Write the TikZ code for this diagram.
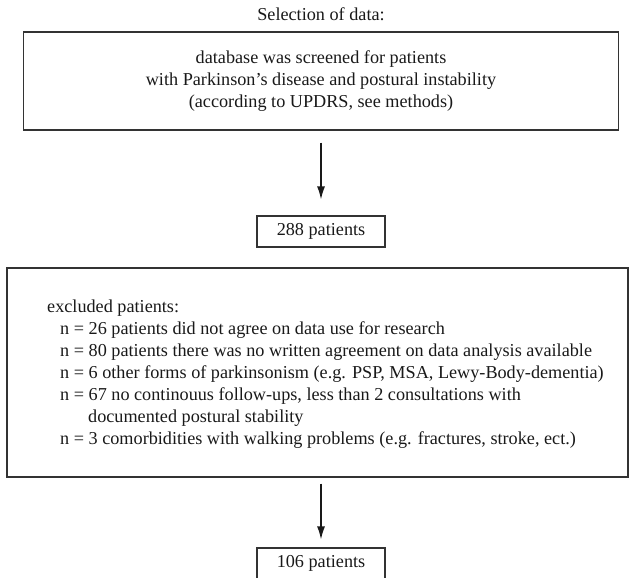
\documentclass[tikz,border=0pt]{standalone}
\usepackage{fontspec}
\setmainfont{Liberation Serif}
\usetikzlibrary{arrows.meta}
\begin{document}
\begin{tikzpicture}[x=1bp,y=-1bp,
  txt/.style={inner sep=0pt, font=\fontsize{18.2bp}{22bp}\selectfont, text=black!90},
  box/.style={draw=black!80, line width=1.1bp, inner sep=0pt, txt},
  arr/.style={draw=black!90, line width=1.4bp, -{Latex[length=13bp,width=8bp]}}
]
\useasboundingbox (0,0) rectangle (629,578);
\node[txt, anchor=base] (title) at (321,21) {Selection of data:};
\node[box, align=center, minimum width=595bp, minimum height=98bp] (screen) at (321,81)
  {database was screened for patients\\with Parkinson’s disease and postural instability\\(according to UPDRS, see methods)};
\node[box, minimum width=128bp, minimum height=31bp] (p288) at (321,231.5) {288 patients};
\node[box, minimum width=621bp, minimum height=209bp] (excl) at (317.5,372.5) {};
\node[txt, anchor=base west] (ex0) at (47,312) {excluded patients:};
\node[txt, anchor=base west] (ex1) at (60,334) {n = 26 patients did not agree on data use for research};
\node[txt, anchor=base west] (ex2) at (60,356) {n = 80 patients there was no written agreement on data analysis available};
\node[txt, anchor=base west] (ex3) at (60,378) {n = 6 other forms of parkinsonism (e.g. PSP, MSA, Lewy-Body-dementia)};
\node[txt, anchor=base west] (ex4) at (60,400) {n = 67 no continouus follow-ups, less than 2 consultations with};
\node[txt, anchor=base west] (ex5) at (88,422) {documented postural stability};
\node[txt, anchor=base west] (ex6) at (60,444) {n = 3 comorbidities with walking problems (e.g. fractures, stroke, ect.)};
\node[box, minimum width=128bp, minimum height=31bp] (p106) at (321,563.5) {106 patients};
\draw[arr, shorten <=12bp, shorten >=16bp] (screen.south) -- (p288.north);
\draw[arr, shorten <=6bp, shorten >=8bp] (p106.north |- excl.south) -- (p106.north);
\end{tikzpicture}
\end{document}
